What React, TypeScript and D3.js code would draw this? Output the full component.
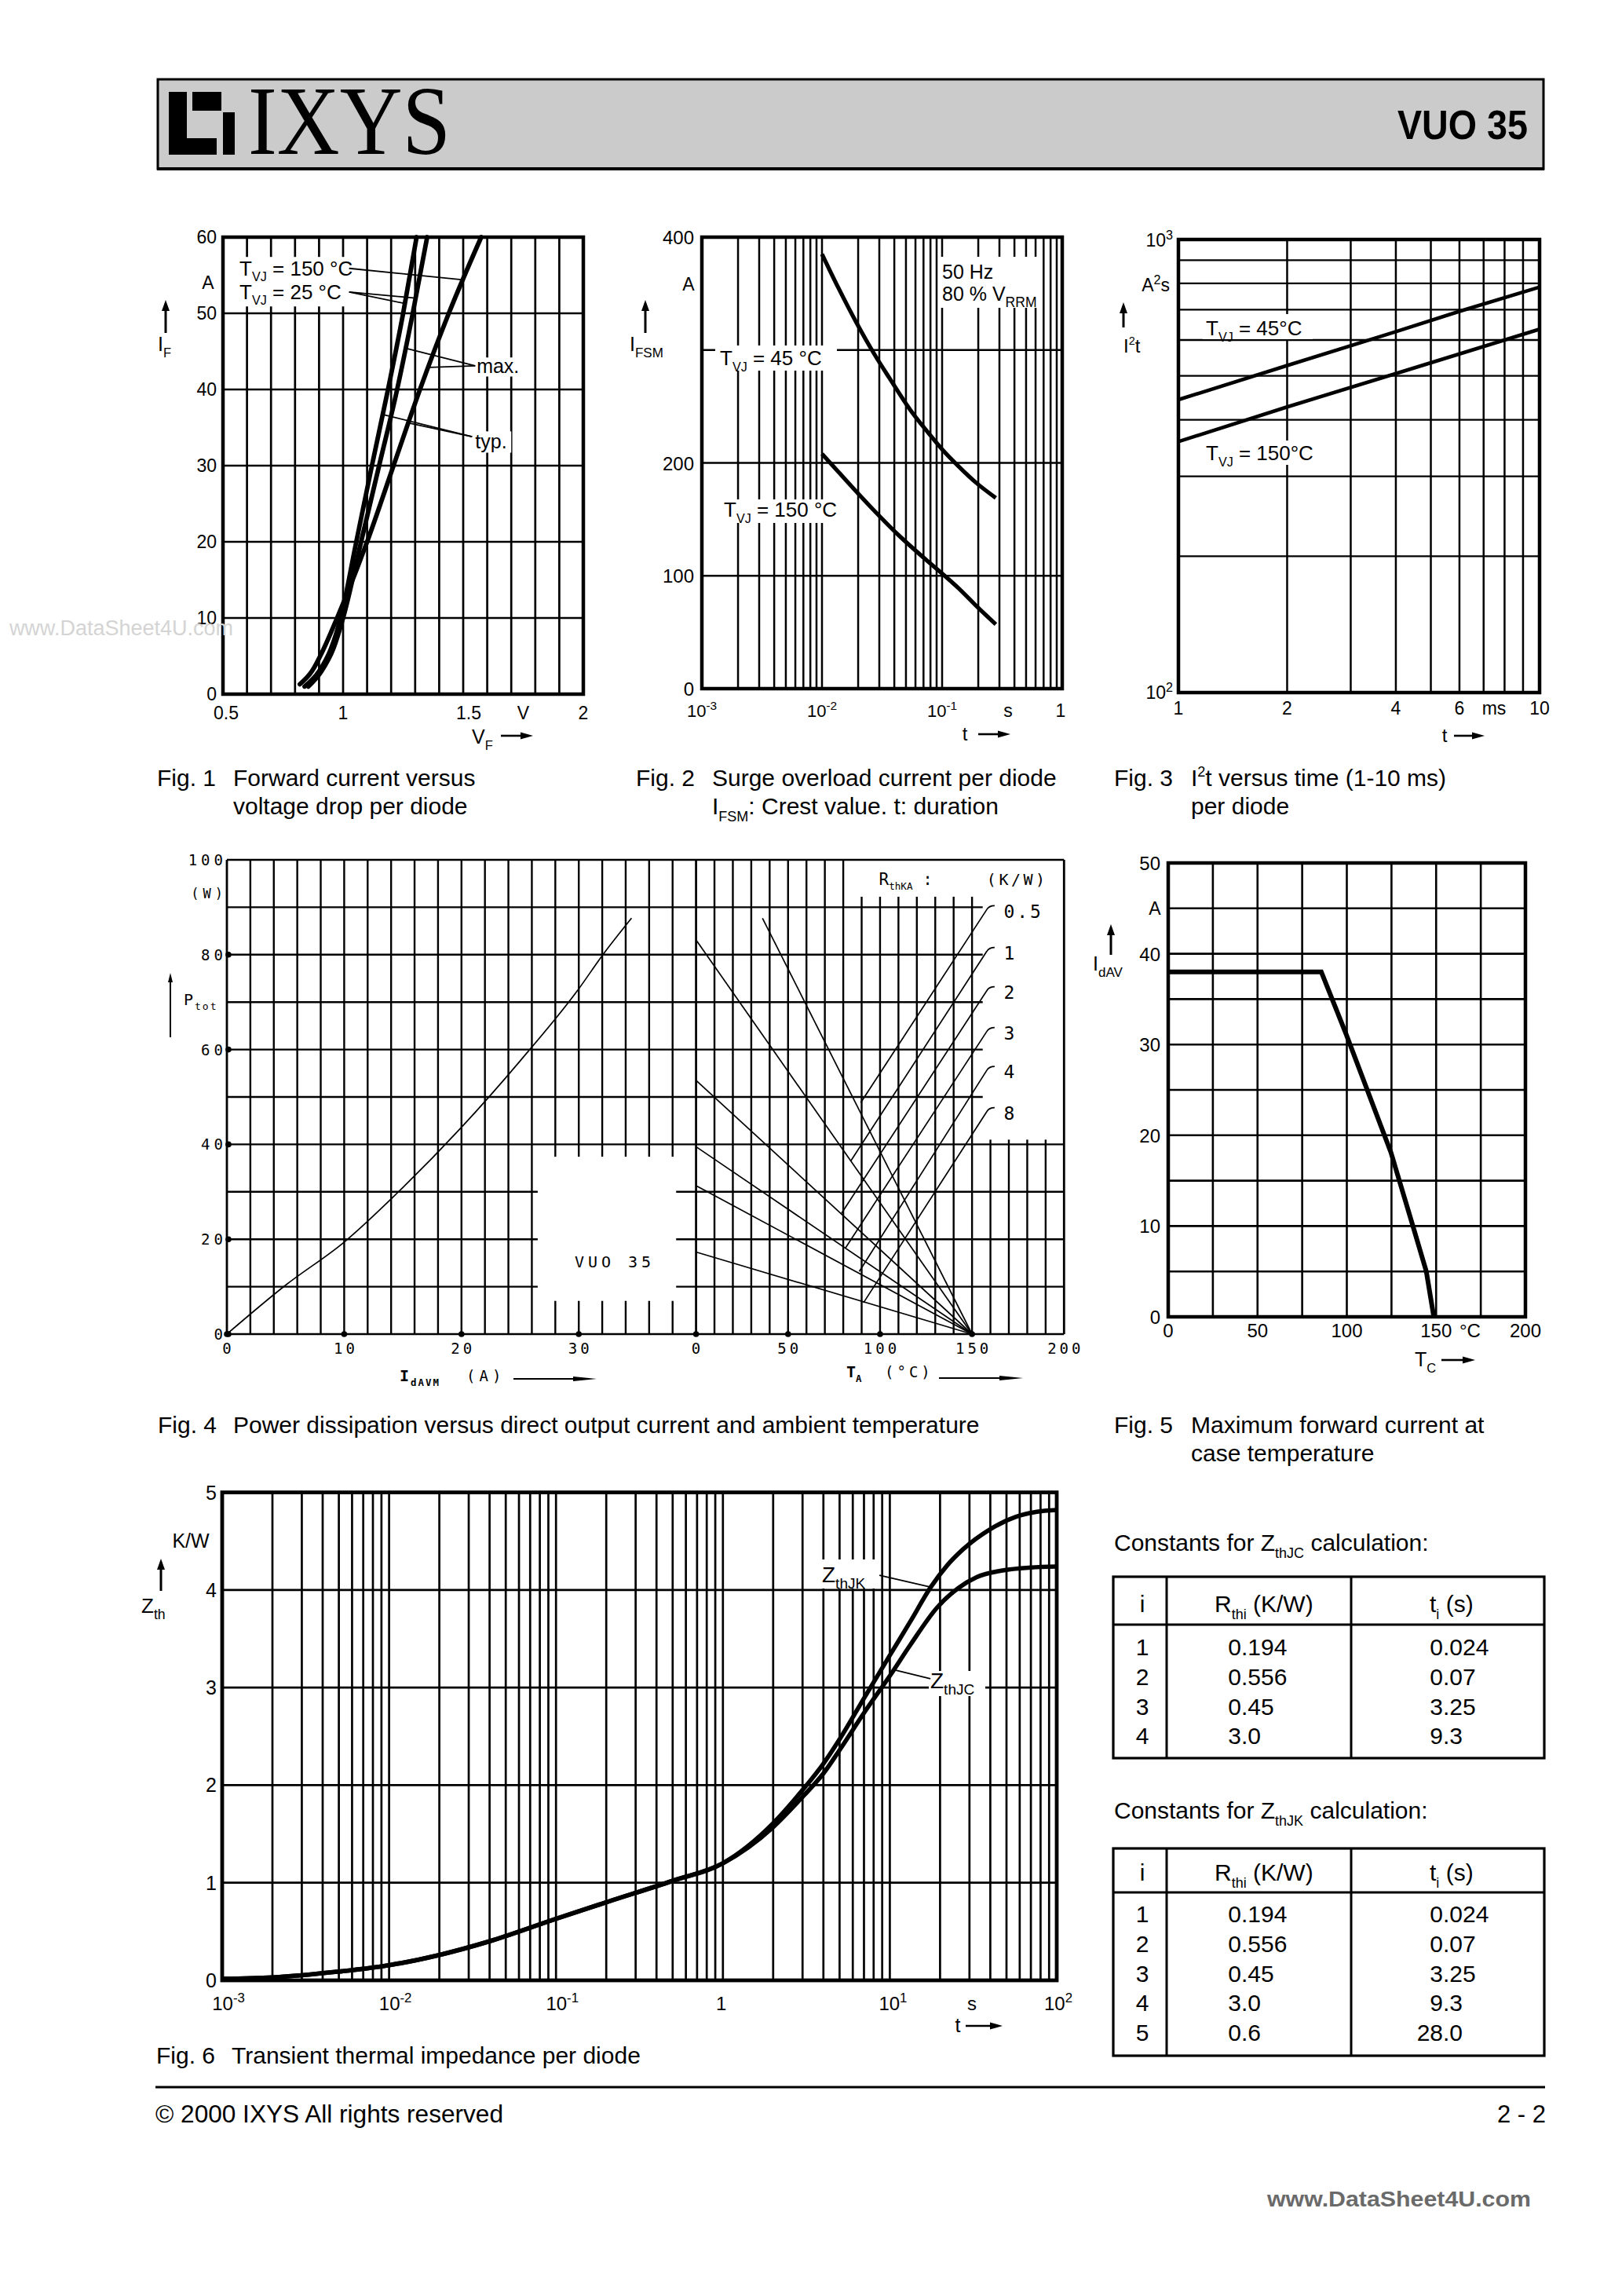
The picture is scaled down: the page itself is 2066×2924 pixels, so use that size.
import React from 'react';
import * as d3 from 'd3';

const SANS = "'Liberation Sans', Arial, Helvetica, sans-serif";
const SERIF = "'Liberation Serif', 'Times New Roman', serif";
const MONO = "'DejaVu Sans Mono', 'Liberation Mono', monospace";
const INK = '#000';

// ---------------- Fig. 1  forward current vs voltage drop ----------------
const fig1VoltTicks = [0.5, 1, 1.5, 2];
const fig1CurrentTicks = [0, 10, 20, 30, 40, 50, 60];
const fig1Typ25 = [[0.84, 1], [0.9, 3], [0.95, 6], [0.99, 10], [1.055, 20], [1.12, 30], [1.187, 40], [1.25, 50], [1.306, 60]];
const fig1Max25 = [[0.855, 1], [0.91, 3], [0.96, 6], [1.0, 10], [1.075, 20], [1.15, 30], [1.225, 40], [1.29, 50], [1.35, 60]];
const fig1Typ150 = [[0.82, 1.3], [0.87, 3], [0.92, 6], [0.975, 10], [1.1, 20], [1.21, 30], [1.32, 40], [1.44, 50], [1.575, 60]];
const fig1Leaders = [
  [[1.025, 55.9], [1.5, 54.4]],
  [[1.025, 52.8], [1.255, 51.3]],
  [[1.025, 52.8], [1.3, 52.0]],
  [[1.55, 43.1], [1.262, 45.4]],
  [[1.55, 43.1], [1.358, 42.9]],
  [[1.537, 33.8], [1.168, 36.7]],
  [[1.537, 33.8], [1.272, 35.6]],
];

// ---------------- Fig. 2  surge current ----------------
const fig2TimeTicks = [1e-3, 1e-2, 1e-1];
const fig2TimeTickLabels = ['-3', '-2', '-1'];
const fig2CurrentTicks = [0, 100, 200, 400];
const fig2At45 = [[0.01, 385], [0.0137, 355], [0.0194, 324], [0.0274, 296], [0.0365, 275], [0.0543, 247], [0.0776, 226], [0.1, 212], [0.137, 197], [0.194, 182], [0.28, 169]];
const fig2At150 = [[0.01, 208], [0.0137, 192], [0.0244, 163], [0.0434, 136], [0.0776, 112], [0.1, 102], [0.137, 89], [0.194, 73], [0.28, 57]];

// ---------------- Fig. 3  I2t ----------------
const fig3TimeTicks = [1, 2, 4, 6, 10];
const fig3At45 = [[1, 443], [2, 527], [4, 626], [6, 694], [10, 785]];
const fig3At150 = [[1, 358], [2, 427], [4, 506], [6, 559], [10, 634]];

// ---------------- Fig. 4  power dissipation ----------------
const fig4CurrentTicks = [0, 10, 20, 30];
const fig4TempTicks = [0, 50, 100, 150, 200];
const fig4PowerTicks = [0, 20, 40, 60, 80, 100];
const fig4PowerCurve = [[0, 0], [5, 10.3], [10, 19.4], [15, 30.9], [20, 43.6], [25, 57.6], [30, 72.8], [32, 79.8], [34.5, 87.7]];
const fig4Rth = ['0.5', '1', '2', '3', '4', '8'];
const fig4DescStart = [[36.1, 87.7], [0, 83.1], [0, 53.5], [0, 39.5], [0, 31.3], [0, 17.3]];
const fig4DescEnd = [150, 0];
const fig4RiseStart = [[89.5, 48.8], [84.1, 36.5], [79.1, 25.5], [81.1, 18.1], [88.7, 13.2], [91, 6.6]];
const fig4RiseEnd = [[158, 89.5], [158, 80.7], [158, 72.4], [158, 63.8], [158, 55.6], [158, 46.9]];

// ---------------- Fig. 5  derating ----------------
const fig5TempTicks = [0, 50, 100, 150, 200];
const fig5CurrentTicks = [0, 10, 20, 30, 40, 50];
const fig5Derating = [[0, 38], [85.7, 38], [99.5, 31.2], [124.7, 18.1], [137, 10], [144.5, 5], [148.7, 0]];

// ---------------- Fig. 6  transient thermal impedance ----------------
const fig6TimeTicks = [1e-3, 1e-2, 1e-1];
const fig6TimeTickLabels = ['-3', '-2', '-1'];
const fig6ZTicks = [0, 1, 2, 3, 4, 5];
const fig6ZthJC = [[0.001, 0.015], [0.002, 0.03], [0.005, 0.09], [0.01, 0.155], [0.02, 0.26], [0.04, 0.4], [0.1, 0.63], [0.2, 0.8], [0.5, 1.02], [1, 1.2], [2, 1.57], [3, 1.88], [4, 2.12], [5, 2.36], [7, 2.74], [10, 3.12], [13.3, 3.44], [19.2, 3.82], [25.7, 4.02], [33, 4.13], [47.5, 4.2], [70, 4.23], [100, 4.24]];
const fig6ZthJK = [[0.001, 0.015], [0.002, 0.03], [0.005, 0.09], [0.01, 0.155], [0.02, 0.26], [0.04, 0.4], [0.1, 0.63], [0.2, 0.8], [0.5, 1.02], [1, 1.2], [2, 1.61], [3, 1.95], [4, 2.22], [5, 2.47], [7, 2.89], [10, 3.33], [13.3, 3.68], [17.6, 4.03], [22, 4.25], [27.6, 4.42], [39.7, 4.62], [57, 4.75], [75, 4.8], [100, 4.82]];
const fig6LeaderJK = [[8.66, 4.15], [17.5, 4.03]];
const fig6LeaderJC = [[17.5, 3.09], [10.76, 3.18]];

// ---------------- Tables ----------------
const tabJC_i = ['1', '2', '3', '4'];
const tabJC_R = ['0.194', '0.556', '0.45', '3.0'];
const tabJC_t = ['0.024', '0.07', '3.25', '9.3'];
const tabJK_i = ['1', '2', '3', '4', '5'];
const tabJK_R = ['0.194', '0.556', '0.45', '3.0', '0.6'];
const tabJK_t = ['0.024', '0.07', '3.25', '9.3', '28.0'];

// ---------------- helpers ----------------
function Rich({ x, y, size, parts, anchor = 'start', family = SANS, fill = INK, weight = 'normal', ls = 0, subScale = 0.66 }: any) {
  let shift = 0;
  const spans = parts.map((p: any, i: number) => {
    const [t, kind] = typeof p === 'string' ? [p, 'n'] : p;
    const target = kind === 'sub' ? size * 0.3 : kind === 'sup' ? -size * 0.4 : 0;
    const dy = target - shift;
    shift = target;
    const fs = kind === 'n' ? size : size * subScale;
    return (
      <tspan key={i} dy={dy} fontSize={fs}>
        {t}
      </tspan>
    );
  });
  return (
    <text x={x} y={y} fontSize={size} fontFamily={family} textAnchor={anchor} fill={fill} fontWeight={weight} letterSpacing={ls}>
      {spans}
    </text>
  );
}

function ArrowRight({ x1, x2, y, head = 16, hw = 4.5, sw = 2.6 }: any) {
  return (
    <g>
      <line x1={x1} x2={x2 - head + 2} y1={y} y2={y} stroke={INK} strokeWidth={sw} />
      <path d={`M${x2},${y} L${x2 - head},${y - hw} L${x2 - head},${y + hw} Z`} fill={INK} />
    </g>
  );
}

function ArrowUp({ x, yb, yt, head = 14, hw = 5, sw = 3 }: any) {
  return (
    <g>
      <line x1={x} x2={x} y1={yb} y2={yt + head - 2} stroke={INK} strokeWidth={sw} />
      <path d={`M${x},${yt} L${x - hw},${yt + head} L${x + hw},${yt + head} Z`} fill={INK} />
    </g>
  );
}

const pathOf = (x: any, y: any, curve: any = d3.curveMonotoneX) =>
  d3.line<number[]>().x((d) => x(d[0])).y((d) => y(d[1])).curve(curve);

function Caption({ x, x2, y, num, lines }: any) {
  return (
    <g fontFamily={SANS} fontSize={30} fill={INK}>
      <text x={x} y={y}>{`Fig. ${num}`}</text>
      {lines.map((l: any, i: number) =>
        typeof l === 'string' ? (
          <text key={i} x={x2} y={y + i * 36}>{l}</text>
        ) : (
          <Rich key={i} x={x2} y={y + i * 36} size={30} parts={l} subScale={0.6} />
        )
      )}
    </g>
  );
}

// ---------------- Header / footer ----------------
function Header() {
  return (
    <g>
      <rect x={201} y={101} width={1765} height={114} fill="#cbcbcb" stroke={INK} strokeWidth={3} />
      <line x1={200} x2={1967} y1={215} y2={215} stroke={INK} strokeWidth={4} />
      <g fill={INK}>
        <rect x={215} y={117} width={23} height={80} />
        <rect x={245} y={117} width={37} height={24} />
        <rect x={284} y={143} width={15} height={54} />
        <rect x={215} y={176} width={61} height={21} />
      </g>
      <text x={316} y={196} fontFamily={SERIF} fontSize={124} textLength={258} lengthAdjust="spacingAndGlyphs" fill={INK}>
        IXYS
      </text>
      <text x={1780} y={177} fontFamily={SANS} fontWeight="bold" fontSize={52} textLength={166} lengthAdjust="spacingAndGlyphs" fill={INK}>
        VUO 35
      </text>
    </g>
  );
}

function Footer() {
  return (
    <g fontFamily={SANS} fill={INK}>
      <line x1={198} x2={1968} y1={2658} y2={2658} stroke={INK} strokeWidth={3} />
      <text x={198} y={2703} fontSize={31} textLength={443} lengthAdjust="spacingAndGlyphs">© 2000 IXYS All rights reserved</text>
      <text x={1969} y={2703} fontSize={31} textAnchor="end">2 - 2</text>
      <text x={1614} y={2810} fontSize={28} fontWeight="bold" fill="#6a6a6a" textLength={336} lengthAdjust="spacingAndGlyphs">
        www.DataSheet4U.com
      </text>
      <text x={297} y={809} fontSize={27} fill="#d4d4d4" textAnchor="end">www.DataSheet4U.com</text>
    </g>
  );
}

// ---------------- Fig 1 ----------------
function Fig1() {
  const x = d3.scaleLinear().domain([0.5, 2]).range([284, 743]);
  const y = d3.scaleLinear().domain([0, 60]).range([884, 302]);
  const p = pathOf(x, y);
  const vgrid = d3.range(6, 20).map((k) => k / 10);
  const hgrid = d3.range(10, 60, 10);
  return (
    <g>
      {vgrid.map((v) => (
        <line key={'v' + v} x1={x(v)} x2={x(v)} y1={y(0)} y2={y(60)} stroke={INK} strokeWidth={2.7} />
      ))}
      {hgrid.map((v) => (
        <line key={'h' + v} x1={x(0.5)} x2={x(2)} y1={y(v)} y2={y(v)} stroke={INK} strokeWidth={2.7} />
      ))}
      <rect x={x(0.5)} y={y(60)} width={x(2) - x(0.5)} height={y(0) - y(60)} fill="none" stroke={INK} strokeWidth={4.5} />
      <rect x={x(0.56)} y={y(57.4)} width={x(1.02) - x(0.56)} height={y(50.9) - y(57.4)} fill="#fff" />
      <rect x={x(1.553)} y={y(44.2)} width={x(1.745) - x(1.553)} height={y(41.7) - y(44.2)} fill="#fff" />
      <rect x={x(1.543)} y={y(34.5)} width={x(1.7) - x(1.543)} height={y(31.7) - y(34.5)} fill="#fff" />
      {[fig1Typ25, fig1Max25, fig1Typ150].map((c, i) => (
        <path key={i} d={p(c as any) || ''} fill="none" stroke={INK} strokeWidth={5.8} strokeLinecap="round" />
      ))}
      {fig1Leaders.map((l, i) => (
        <line key={i} x1={x(l[0][0])} y1={y(l[0][1])} x2={x(l[1][0])} y2={y(l[1][1])} stroke={INK} strokeWidth={1.8} />
      ))}
      <Rich x={x(0.569)} y={y(55.0)} size={26} parts={['T', ['VJ', 'sub'], ' = 150 °C']} subScale={0.62} />
      <Rich x={x(0.569)} y={y(51.9)} size={26} parts={['T', ['VJ', 'sub'], ' =  25 °C']} subScale={0.62} />
      <text x={x(1.556)} y={y(42.2)} fontFamily={SANS} fontSize={25}>max.</text>
      <text x={x(1.55)} y={y(32.3)} fontFamily={SANS} fontSize={25}>typ.</text>
      {fig1CurrentTicks.map((v) => (
        <text key={v} x={276} y={y(v) + 8} textAnchor="end" fontFamily={SANS} fontSize={23}>{v}</text>
      ))}
      <text x={265} y={y(54) + 8} textAnchor="middle" fontFamily={SANS} fontSize={23}>A</text>
      {fig1VoltTicks.map((v) => (
        <text key={v} x={x(v) + (v === 0.5 ? 4 : v === 1.5 ? 7 : 0)} y={916} textAnchor="middle" fontFamily={SANS} fontSize={23}>{v}</text>
      ))}
      <text x={x(1.75)} y={916} textAnchor="middle" fontFamily={SANS} fontSize={23}>V</text>
      <ArrowUp x={211} yb={424} yt={382} />
      <Rich x={201} y={447} size={25} parts={['I', ['F', 'sub']]} />
      <Rich x={601} y={947} size={25} parts={['V', ['F', 'sub']]} />
      <ArrowRight x1={638} x2={679} y={937} />
      <Caption x={200} x2={297} y={1001} num={1} lines={['Forward current versus', 'voltage drop per diode']} />
    </g>
  );
}

// ---------------- Fig 2 ----------------
function Fig2() {
  const x = d3.scaleLog().domain([1e-3, 1]).range([894, 1353]);
  const y = d3.scaleLinear().domain([0, 400]).range([877, 302]);
  const p = pathOf(x, y);
  const vgrid: number[] = [];
  [-3, -2, -1].forEach((d) => d3.range(1, 10).forEach((k) => vgrid.push(k * Math.pow(10, d))));
  const vg = vgrid.filter((v) => v > 1.0001e-3);
  return (
    <g>
      {vg.map((v, i) => (
        <line key={'v' + i} x1={x(v)} x2={x(v)} y1={y(0)} y2={y(400)} stroke={INK} strokeWidth={2.5} />
      ))}
      {[100, 200, 300].map((v) => (
        <line key={'h' + v} x1={x(1e-3)} x2={x(1)} y1={y(v)} y2={y(v)} stroke={INK} strokeWidth={2.6} />
      ))}
      <rect x={x(1e-3)} y={y(400)} width={x(1) - x(1e-3)} height={y(0) - y(400)} fill="none" stroke={INK} strokeWidth={4.5} />
      <rect x={911} y={440} width={155} height={32} fill="#fff" />
      <rect x={919} y={636} width={147} height={30} fill="#fff" />
      <rect x={1196} y={327} width={132} height={65} fill="#fff" />
      <path d={p(fig2At45 as any) || ''} fill="none" stroke={INK} strokeWidth={5.2} />
      <path d={p(fig2At150 as any) || ''} fill="none" stroke={INK} strokeWidth={5.2} />
      <Rich x={917} y={465} size={26} parts={['T', ['VJ', 'sub'], ' =  45 °C']} subScale={0.62} />
      <Rich x={922} y={658} size={26} parts={['T', ['VJ', 'sub'], ' = 150 °C']} subScale={0.62} />
      <text x={1200} y={355} fontFamily={SANS} fontSize={25}>50 Hz</text>
      <Rich x={1200} y={383} size={25} parts={['80 % V', ['RRM', 'sub']]} subScale={0.7} />
      {fig2CurrentTicks.map((v) => (
        <text key={v} x={884} y={y(v) + 9} textAnchor="end" fontFamily={SANS} fontSize={24}>{v}</text>
      ))}
      <text x={877} y={370} textAnchor="middle" fontFamily={SANS} fontSize={23}>A</text>
      {fig2TimeTicks.map((v, i) => (
        <Rich key={i} x={x(v)} y={913} size={22} parts={['10', [fig2TimeTickLabels[i], 'sup']]} anchor="middle" subScale={0.7} />
      ))}
      <text x={1284} y={913} textAnchor="middle" fontFamily={SANS} fontSize={23}>s</text>
      <text x={1351} y={913} textAnchor="middle" fontFamily={SANS} fontSize={23}>1</text>
      <text x={1229} y={943} textAnchor="middle" fontFamily={SANS} fontSize={24}>t</text>
      <ArrowRight x1={1246} x2={1287} y={935} />
      <ArrowUp x={822} yb={424} yt={382} />
      <Rich x={802} y={447} size={25} parts={['I', ['FSM', 'sub']]} subScale={0.68} />
      <Caption x={810} x2={907} y={1001} num={2} lines={['Surge overload current per diode', ['I', ['FSM', 'sub'], ': Crest value. t: duration']]} />
    </g>
  );
}

// ---------------- Fig 3 ----------------
function Fig3() {
  const x = d3.scaleLog().domain([1, 10]).range([1501, 1961]);
  const y = d3.scaleLog().domain([100, 1000]).range([882, 305]);
  const p = pathOf(x, y, d3.curveLinear);
  const vgrid = d3.range(2, 10);
  const hgrid = d3.range(200, 1000, 100);
  return (
    <g>
      {vgrid.map((v) => (
        <line key={'v' + v} x1={x(v)} x2={x(v)} y1={y(100)} y2={y(1000)} stroke={INK} strokeWidth={2.5} />
      ))}
      {hgrid.map((v) => (
        <line key={'h' + v} x1={x(1)} x2={x(10)} y1={y(v)} y2={y(v)} stroke={INK} strokeWidth={2.3} />
      ))}
      <rect x={x(1)} y={y(1000)} width={x(10) - x(1)} height={y(100) - y(1000)} fill="none" stroke={INK} strokeWidth={4.5} />
      <rect x={1532} y={400} width={140} height={32} fill="#fff" />
      <rect x={1532} y={561} width={140} height={31} fill="#fff" />
      <path d={p(fig3At45 as any) || ''} fill="none" stroke={INK} strokeWidth={4.6} />
      <path d={p(fig3At150 as any) || ''} fill="none" stroke={INK} strokeWidth={4.6} />
      <Rich x={1536} y={427} size={26} parts={['T', ['VJ', 'sub'], ' =  45°C']} subScale={0.62} />
      <Rich x={1536} y={586} size={26} parts={['T', ['VJ', 'sub'], ' = 150°C']} subScale={0.62} />
      <Rich x={1494} y={314} size={23} parts={['10', ['3', 'sup']]} anchor="end" subScale={0.7} />
      <Rich x={1494} y={890} size={23} parts={['10', ['2', 'sup']]} anchor="end" subScale={0.7} />
      <Rich x={1490} y={371} size={23} parts={['A', ['2', 'sup'], 's']} anchor="end" subScale={0.7} />
      {fig3TimeTicks.map((v) => (
        <text key={v} x={x(v)} y={910} textAnchor="middle" fontFamily={SANS} fontSize={23}>{v}</text>
      ))}
      <text x={1903} y={910} textAnchor="middle" fontFamily={SANS} fontSize={23}>ms</text>
      <text x={1840} y={945} textAnchor="middle" fontFamily={SANS} fontSize={24}>t</text>
      <ArrowRight x1={1852} x2={1891} y={937} />
      <ArrowUp x={1431} yb={417} yt={385} />
      <Rich x={1431} y={449} size={24} parts={['I', ['2', 'sup'], 't']} subScale={0.6} />
      <Caption x={1419} x2={1517} y={1001} num={3} lines={[['I', ['2', 'sup'], 't versus time (1-10 ms)'], 'per diode']} />
    </g>
  );
}

// ---------------- Fig 4 ----------------
function Fig4() {
  const xI = d3.scaleLinear().domain([0, 40]).range([289, 886.6]);
  const xT = d3.scaleLinear().domain([0, 200]).range([886.6, 1355.3]);
  const y = d3.scaleLinear().domain([0, 100]).range([1699, 1095]);
  const gw = 2.4;
  const leftV = d3.range(2, 40, 2);
  const rightV = d3.range(10, 200, 10);
  const lineP = d3.line<number[]>().x((d) => xI(d[0])).y((d) => y(d[1])).curve(d3.curveMonotoneX);
  const lineT = d3.line<number[]>().x((d) => xT(d[0])).y((d) => y(d[1]));
  const topOf = (t: number) => (t <= 80 ? 100 : t <= 150 ? 92.2 : 41);
  const hEnd = (pw: number) => (pw <= 40 || pw >= 100 ? 200 : 155.8);
  return (
    <g>
      {leftV.map((v) => (
        <line key={'l' + v} x1={xI(v)} x2={xI(v)} y1={y(0)} y2={y(100)} stroke={INK} strokeWidth={gw} />
      ))}
      {rightV.map((t) => (
        <line key={'r' + t} x1={xT(t)} x2={xT(t)} y1={y(0)} y2={y(topOf(t))} stroke={INK} strokeWidth={gw} />
      ))}
      {[0, 200].map((t) => (
        <line key={'e' + t} x1={xT(t)} x2={xT(t)} y1={y(0)} y2={y(100)} stroke={INK} strokeWidth={2.8} />
      ))}
      <line x1={xI(0)} x2={xI(0)} y1={y(0)} y2={y(100)} stroke={INK} strokeWidth={2.8} />
      {d3.range(0, 101, 10).map((pw) => (
        <line key={'h' + pw} x1={xI(0)} x2={xT(hEnd(pw))} y1={y(pw)} y2={y(pw)} stroke={INK} strokeWidth={gw} />
      ))}
      <rect x={xI(26.5)} y={y(37.4)} width={xI(38.3) - xI(26.5)} height={y(7) - y(37.4)} fill="#fff" />
      <text x={783} y={1614} textAnchor="middle" fontFamily={MONO} fontSize={20} letterSpacing={5}>VUO 35</text>
      <path d={lineP(fig4PowerCurve as any) || ''} fill="none" stroke={INK} strokeWidth={1.7} />
      {fig4DescStart.map((s, i) => (
        <path key={'d' + i} d={lineT([s, fig4DescEnd] as any) || ''} fill="none" stroke={INK} strokeWidth={1.7} />
      ))}
      {fig4RiseStart.map((s, i) => {
        const e = fig4RiseEnd[i];
        const ex = xT(e[0]);
        const ey = y(e[1]);
        return (
          <g key={'r' + i}>
            <path d={`${lineT([s, e] as any)} Q${ex + 3},${ey - 5} ${ex + 10},${ey - 5}`} fill="none" stroke={INK} strokeWidth={1.7} />
            <text x={xT(167.2)} y={y(e[1] - 1.7)} fontFamily={MONO} fontSize={23} letterSpacing={3}>{fig4Rth[i]}</text>
          </g>
        );
      })}
      <Rich x={xT(99.4)} y={y(94.7)} size={21} family={MONO} parts={['R', ['thKA', 'sub'], ' :']} subScale={0.6} />
      <text x={xT(158)} y={y(94.7)} fontFamily={MONO} fontSize={20} letterSpacing={3.5}>(K/W)</text>
      {[0, 20, 40, 60, 80].map((v) => (
        <circle key={'dy' + v} cx={xI(0) + 2} cy={y(v)} r={3.8} fill={INK} />
      ))}
      {fig4CurrentTicks.map((v) => (
        <circle key={'dx' + v} cx={xI(v)} cy={y(0)} r={3.8} fill={INK} />
      ))}
      {[0, 50, 100, 150].map((v) => (
        <circle key={'dt' + v} cx={xT(v)} cy={y(0)} r={3.8} fill={INK} />
      ))}
      {fig4PowerTicks.map((v) => (
        <text key={'py' + v} x={289} y={y(v) + 7} textAnchor="end" fontFamily={MONO} fontSize={19} letterSpacing={5}>{v}</text>
      ))}
      <text x={289} y={1144} textAnchor="end" fontFamily={MONO} fontSize={17} letterSpacing={5}>(W)</text>
      {fig4CurrentTicks.map((v) => (
        <text key={'ix' + v} x={xI(v) + 2} y={1724} textAnchor="middle" fontFamily={MONO} fontSize={19} letterSpacing={4}>{v}</text>
      ))}
      {fig4TempTicks.map((v) => (
        <text key={'tx' + v} x={xT(v) + 2} y={1724} textAnchor="middle" fontFamily={MONO} fontSize={19} letterSpacing={4}>{v}</text>
      ))}
      <Rich x={509} y={1759} size={20} family={MONO} parts={['I', ['dAVM', 'sub']]} subScale={0.62} ls={2} weight="bold" />
      <text x={594} y={1759} fontFamily={MONO} fontSize={19} letterSpacing={5}>(A)</text>
      <ArrowRight x1={654} x2={760} y={1756} head={30} hw={3} sw={1.8} />
      <Rich x={1078} y={1754} size={20} family={MONO} parts={['T', ['A', 'sub']]} subScale={0.62} weight="bold" />
      <text x={1127} y={1754} fontFamily={MONO} fontSize={19} letterSpacing={4}>(°C)</text>
      <ArrowRight x1={1196} x2={1303} y={1755} head={30} hw={3} sw={1.8} />
      <ArrowUp x={217} yb={1321} yt={1239} head={12} hw={3} sw={2} />
      <Rich x={234} y={1280} size={20} family={MONO} parts={['P', ['tot', 'sub']]} subScale={0.65} ls={2} />
      <Caption x={201} x2={297} y={1825} num={4} lines={['Power dissipation versus direct output current and ambient temperature']} />
    </g>
  );
}

// ---------------- Fig 5 ----------------
function Fig5() {
  const x = d3.scaleLinear().domain([0, 200]).range([1488, 1943]);
  const y = d3.scaleLinear().domain([0, 50]).range([1677, 1099]);
  const p = pathOf(x, y, d3.curveLinear);
  return (
    <g>
      {d3.range(25, 200, 25).map((v) => (
        <line key={'v' + v} x1={x(v)} x2={x(v)} y1={y(0)} y2={y(50)} stroke={INK} strokeWidth={2.6} />
      ))}
      {d3.range(5, 50, 5).map((v) => (
        <line key={'h' + v} x1={x(0)} x2={x(200)} y1={y(v)} y2={y(v)} stroke={INK} strokeWidth={2.6} />
      ))}
      <rect x={x(0)} y={y(50)} width={x(200) - x(0)} height={y(0) - y(50)} fill="none" stroke={INK} strokeWidth={4.5} />
      <path d={p(fig5Derating as any) || ''} fill="none" stroke={INK} strokeWidth={6} />
      {fig5CurrentTicks.map((v) => (
        <text key={v} x={1478} y={y(v) + 9} textAnchor="end" fontFamily={SANS} fontSize={24}>{v}</text>
      ))}
      <text x={1471} y={1165} textAnchor="middle" fontFamily={SANS} fontSize={23}>A</text>
      {fig5TempTicks.map((v) => (
        <text key={v} x={x(v)} y={1703} textAnchor="middle" fontFamily={SANS} fontSize={24}>{v}</text>
      ))}
      <text x={x(169)} y={1703} textAnchor="middle" fontFamily={SANS} fontSize={24}>°C</text>
      <Rich x={1802} y={1740} size={25} parts={['T', ['C', 'sub']]} />
      <ArrowRight x1={1836} x2={1879} y={1732} />
      <ArrowUp x={1415} yb={1216} yt={1177} />
      <Rich x={1392} y={1236} size={25} parts={['I', ['dAV', 'sub']]} subScale={0.68} />
      <Caption x={1419} x2={1517} y={1825} num={5} lines={['Maximum forward current at', 'case temperature']} />
    </g>
  );
}

// ---------------- Fig 6 ----------------
function Fig6() {
  const x = d3.scaleLog().domain([1e-3, 100]).range([283, 1346]);
  const y = d3.scaleLinear().domain([0, 5]).range([2522, 1900.6]);
  const p = pathOf(x, y);
  const vgrid: number[] = [];
  [-3, -2, -1, 0, 1].forEach((d) => d3.range(1, 10).forEach((k) => vgrid.push(k * Math.pow(10, d))));
  const vg = vgrid.filter((v) => v > 1.0001e-3);
  return (
    <g>
      {vg.map((v, i) => (
        <line key={'v' + i} x1={x(v)} x2={x(v)} y1={y(0)} y2={y(5)} stroke={INK} strokeWidth={2.7} />
      ))}
      {[1, 2, 3, 4].map((v) => (
        <line key={'h' + v} x1={x(1e-3)} x2={x(100)} y1={y(v)} y2={y(v)} stroke={INK} strokeWidth={2.7} />
      ))}
      <rect x={x(1e-3)} y={y(5)} width={x(100) - x(1e-3)} height={y(0) - y(5)} fill="none" stroke={INK} strokeWidth={4.8} />
      <rect x={1044} y={1986} width={73} height={37} fill="#fff" />
      <rect x={1183} y={2128} width={72} height={32} fill="#fff" />
      <path d={p(fig6ZthJC as any) || ''} fill="none" stroke={INK} strokeWidth={5.6} />
      <path d={p(fig6ZthJK as any) || ''} fill="none" stroke={INK} strokeWidth={5.6} />
      {[fig6LeaderJK, fig6LeaderJC].map((l, i) => (
        <line key={i} x1={x(l[0][0])} y1={y(l[0][1])} x2={x(l[1][0])} y2={y(l[1][1])} stroke={INK} strokeWidth={1.8} />
      ))}
      <Rich x={1047} y={2015} size={28} parts={['Z', ['thJK', 'sub']]} subScale={0.68} />
      <Rich x={1185} y={2150} size={28} parts={['Z', ['thJC', 'sub']]} subScale={0.68} />
      {fig6ZTicks.map((v) => (
        <text key={v} x={276} y={y(v) + 9} textAnchor="end" fontFamily={SANS} fontSize={25}>{v}</text>
      ))}
      <text x={243} y={1971} textAnchor="middle" fontFamily={SANS} fontSize={25}>K/W</text>
      {fig6TimeTicks.map((v, i) => (
        <Rich key={i} x={x(v) + 8} y={2560} size={24} parts={['10', [fig6TimeTickLabels[i], 'sup']]} anchor="middle" subScale={0.7} />
      ))}
      <text x={x(1) - 2} y={2560} textAnchor="middle" fontFamily={SANS} fontSize={24}>1</text>
      <Rich x={x(10) + 4} y={2560} size={24} parts={['10', ['1', 'sup']]} anchor="middle" subScale={0.7} />
      <text x={1238} y={2560} textAnchor="middle" fontFamily={SANS} fontSize={24}>s</text>
      <Rich x={x(100) + 2} y={2560} size={24} parts={['10', ['2', 'sup']]} anchor="middle" subScale={0.7} />
      <text x={1220} y={2588} textAnchor="middle" fontFamily={SANS} fontSize={25}>t</text>
      <ArrowRight x1={1230} x2={1277} y={2580} />
      <ArrowUp x={205} yb={2026} yt={1985} />
      <Rich x={180} y={2054} size={26} parts={['Z', ['th', 'sub']]} subScale={0.68} />
      <Caption x={199} x2={295} y={2628} num={6} lines={['Transient thermal impedance per diode']} />
    </g>
  );
}

// ---------------- Tables ----------------
function DecimalText({ x, y, s }: any) {
  const [a, b] = s.split('.');
  return (
    <g>
      <text x={x} y={y} textAnchor="end">{a}</text>
      <text x={x} y={y}>{b !== undefined ? '.' + b : ''}</text>
    </g>
  );
}

function ConstTable({ top, bottom, headerLine, titleY, headY, rowYs, sub, ii, rr, tt }: any) {
  return (
    <g fontFamily={SANS} fontSize={30} fill={INK}>
      <Rich x={1419} y={titleY} size={30} parts={['Constants for Z', [sub, 'sub'], ' calculation:']} subScale={0.6} />
      <rect x={1418} y={top} width={549} height={bottom - top} fill="none" stroke={INK} strokeWidth={3.2} />
      <line x1={1418} x2={1967} y1={headerLine} y2={headerLine} stroke={INK} strokeWidth={3} />
      <line x1={1486} x2={1486} y1={top} y2={bottom} stroke={INK} strokeWidth={3} />
      <line x1={1721} x2={1721} y1={top} y2={bottom} stroke={INK} strokeWidth={3} />
      <text x={1455} y={headY} textAnchor="middle">i</text>
      <Rich x={1547} y={headY} size={30} parts={['R', ['thi', 'sub'], ' (K/W)']} subScale={0.6} />
      <Rich x={1821} y={headY} size={30} parts={['t', ['i', 'sub'], ' (s)']} subScale={0.6} />
      {ii.map((v: string, k: number) => (
        <g key={k}>
          <text x={1455} y={rowYs[k]} textAnchor="middle">{v}</text>
          <DecimalText x={1581} y={rowYs[k]} s={rr[k]} />
          <DecimalText x={1838} y={rowYs[k]} s={tt[k]} />
        </g>
      ))}
    </g>
  );
}

export default function App() {
  return (
    <svg width={2066} height={2924} viewBox="0 0 2066 2924" style={{ position: 'absolute', left: 0, top: 0, background: '#fff' }}>
      <rect x={0} y={0} width={2066} height={2924} fill="#fff" />
      <Header />
      <Fig1 />
      <Fig2 />
      <Fig3 />
      <Fig4 />
      <Fig5 />
      <Fig6 />
      <ConstTable top={2008} bottom={2239} headerLine={2069} titleY={1975} headY={2053} rowYs={[2108, 2146, 2184, 2221]} sub="thJC" ii={tabJC_i} rr={tabJC_R} tt={tabJC_t} />
      <ConstTable top={2354} bottom={2618} headerLine={2410} titleY={2316} headY={2395} rowYs={[2448, 2486, 2524, 2561, 2599]} sub="thJK" ii={tabJK_i} rr={tabJK_R} tt={tabJK_t} />
      <Footer />
    </svg>
  );
}
